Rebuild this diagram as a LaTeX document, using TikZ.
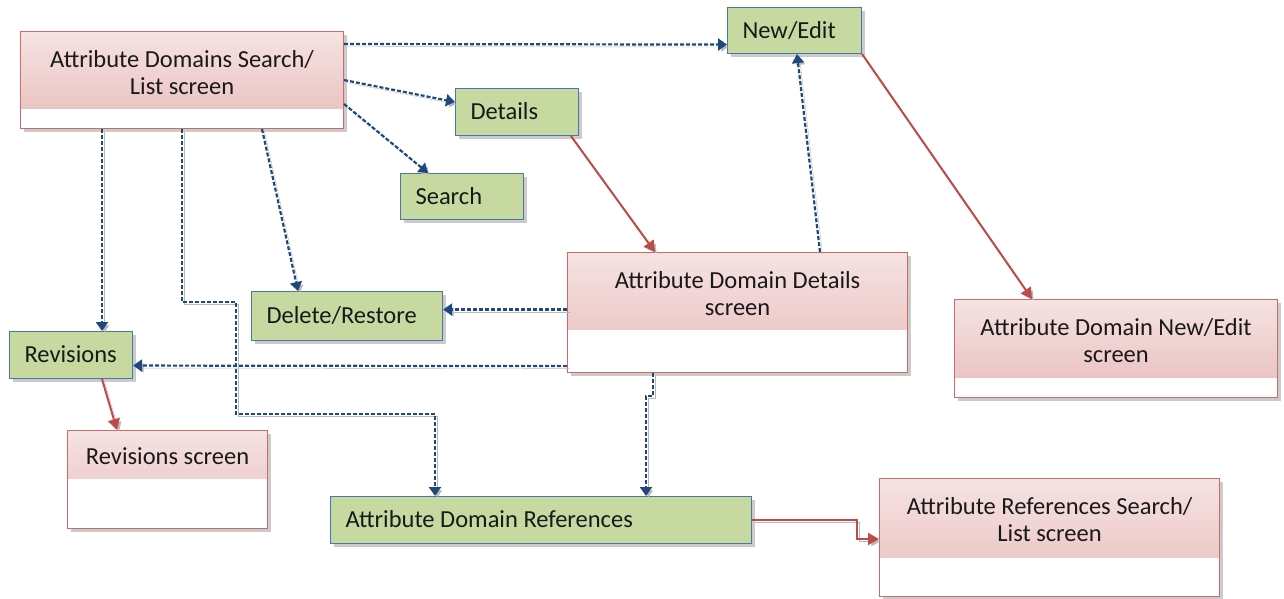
\documentclass[tikz,border=0pt]{standalone}
\usepackage{fontspec}
\setmainfont{Carlito}
\usetikzlibrary{arrows.meta,positioning,shadows}

\definecolor{pinktop}{HTML}{F5E3E2}
\definecolor{pinkbot}{HTML}{E8BDBC}
\definecolor{scrred}{HTML}{CC6B68}
\definecolor{boxgreen}{HTML}{C6D9A1}
\definecolor{boxblue}{HTML}{4A76A8}
\definecolor{navblue}{HTML}{1F497D}
\definecolor{linkred}{HTML}{BE4B48}
\definecolor{shadowgray}{HTML}{B8B8B8}

\begin{document}
\begin{tikzpicture}[
  x=1pt, y=-1pt,
  font=\fontsize{24.5}{27}\selectfont,
  text=black!90,
  shd/.style={drop shadow={shadow xshift=3pt,shadow yshift=-3pt,fill=black!45,opacity=.45}},
  scr/.style={draw=scrred,line width=1.1pt,fill=white,anchor=north west,inner sep=0pt,shd,
              path picture={\shade[top color=pinktop,bottom color=pinkbot]
                (path picture bounding box.north west) rectangle
                ([yshift=-#1]path picture bounding box.north east);}},
  scrtext/.style={align=center,inner sep=0pt},
  act/.style={draw=boxblue,line width=1.1pt,fill=boxgreen,anchor=north west,
              inner xsep=15pt,inner ysep=0pt,align=flush left,text height=15.5pt,
              text depth=0pt,shd},
  nav/.style={navblue,line width=2.2pt,dash pattern=on 4pt off 2pt,
              -{Triangle[length=9pt,width=12pt]},
              preaction={draw=shadowgray,transform canvas={shift={(2.5pt,-2.5pt)}}}},
  link/.style={linkred,line width=2pt,-{Triangle[length=11pt,width=12pt]},
              preaction={draw=shadowgray,transform canvas={shift={(2.5pt,-2.5pt)}}}}
]
\useasboundingbox (0,0) rectangle (1284,598);

% screens
\node[scr=77pt,minimum width=323pt,minimum height=97pt] (ads) at (20,31) {};
\node[scrtext] (ads-t) at ([yshift=-42pt]ads.north) {Attribute Domains Search/\\List screen};
\node[scr=77pt,minimum width=340pt,minimum height=120pt] (add) at (567,252) {};
\node[scrtext] (add-t) at ([yshift=-42pt]add.north) {Attribute Domain Details\\screen};
\node[scr=78pt,minimum width=323pt,minimum height=98pt] (adne) at (954,299) {};
\node[scrtext] (adne-t) at ([yshift=-42pt]adne.north) {Attribute Domain New/Edit\\screen};
\node[scr=48pt,minimum width=200pt,minimum height=98pt] (revscr) at (67,430) {};
\node[scrtext] (revscr-t) at ([yshift=-26pt]revscr.north) {Revisions screen};
\node[scr=79pt,minimum width=340pt,minimum height=118pt] (ars) at (879,478) {};
\node[scrtext] (ars-t) at ([yshift=-42pt]ars.north) {Attribute References Search/\\List screen};

% actions
\node[act,text width=104pt,minimum height=46pt] (newedit) at (727,7) {New/Edit};
\node[act,text width=93pt,minimum height=47pt] (details) at (455,88) {Details};
\node[act,text width=93pt,minimum height=46pt] (search) at (400,173) {Search};
\node[act,text width=161pt,minimum height=49pt] (delres) at (251,291) {Delete/Restore};
\node[act,text width=93pt,minimum height=47pt] (revisions) at (9,331) {Revisions};
\node[act,text width=391pt,minimum height=47pt] (adr) at (330,496) {Attribute Domain References};

% navigation
\draw[nav] ([yshift=-13pt]ads.north east) -- ([yshift=-14pt]newedit.west);
\draw[nav] (ads.east) -- ([yshift=-14pt]details.north west);
\draw[nav] ([yshift=-73pt]ads.north east) -- ([xshift=28pt]search.north west);
\draw[nav] ([xshift=82pt]ads.south west) -- ([xshift=93pt]revisions.north west);
\draw[nav] ([xshift=162pt]ads.south west) -- ++(0,173) -- ++(54,0) -- ++(0,112)
  -| ([xshift=105pt]adr.north west);
\draw[nav] ([xshift=242pt]ads.south west) -- ([xshift=47pt]delres.north west);
\draw[nav] ([yshift=3pt]add.west) -- ([yshift=6.5pt]delres.east);
\draw[nav] ([yshift=7pt]add.south west) -- ([yshift=-10.5pt]revisions.east);
\draw[nav] ([xshift=253pt]add.north west) -- ([xshift=70pt]newedit.south west);
\draw[nav] ([xshift=86pt]add.south west) -- ++(0,23) -| ([xshift=316pt]adr.north west);

% screen links
\draw[link] ([xshift=116pt]details.south west) -- ([xshift=88pt]add.north west);
\draw[link] (newedit.south east) -- ([xshift=78pt]adne.north west);
\draw[link] ([xshift=93pt]revisions.south west) -- ([xshift=50pt]revscr.north west);
\draw[link] (adr.east) -- ++(105,0) |- ([yshift=-61pt]ars.north west);
\end{tikzpicture}
\end{document}
